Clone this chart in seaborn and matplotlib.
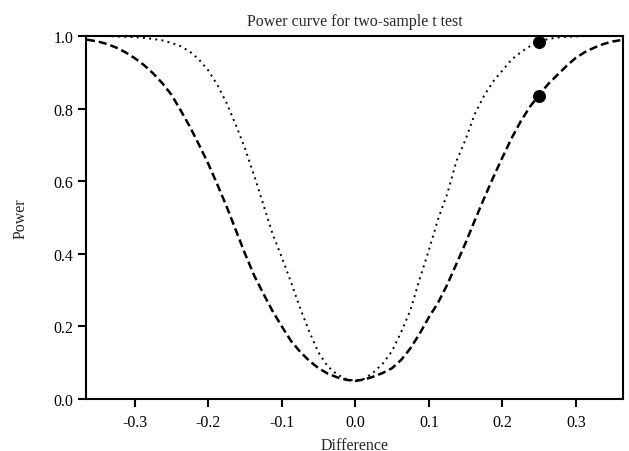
import matplotlib
matplotlib.use("Agg")
import matplotlib.pyplot as plt
import pandas as pd
import seaborn as sns

# values
diff = [-0.365, -0.35, -0.3375, -0.325, -0.3125, -0.3, -0.2875, -0.275, -0.2625, -0.25,
        -0.2375, -0.225, -0.2125, -0.2, -0.1875, -0.175, -0.1625, -0.15, -0.1375, -0.125,
        -0.1125, -0.1, -0.0875, -0.075, -0.0625, -0.05, -0.0375, -0.025, -0.0125, 0.0,
        0.0125, 0.025, 0.0375, 0.05, 0.0625, 0.075, 0.0875, 0.1, 0.1125, 0.125,
        0.1375, 0.15, 0.1625, 0.175, 0.1875, 0.2, 0.2125, 0.225, 0.2375, 0.25,
        0.2625, 0.275, 0.2875, 0.3, 0.3125, 0.325, 0.3375, 0.35, 0.365]
power_small = [0.990, 0.985, 0.978, 0.968, 0.955, 0.939, 0.920, 0.897, 0.870, 0.838,
               0.795, 0.750, 0.700, 0.648, 0.590, 0.530, 0.465, 0.400, 0.340, 0.290,
               0.242, 0.200, 0.160, 0.130, 0.105, 0.085, 0.070, 0.060, 0.053, 0.050,
               0.054, 0.062, 0.072, 0.085, 0.108, 0.140, 0.180, 0.225, 0.265, 0.315,
               0.372, 0.430, 0.492, 0.552, 0.610, 0.665, 0.718, 0.765, 0.805, 0.838,
               0.868, 0.893, 0.918, 0.940, 0.956, 0.968, 0.978, 0.985, 0.990]
power_large = [1.000, 1.000, 1.000, 0.999, 0.998, 0.997, 0.995, 0.992, 0.988, 0.981,
               0.972, 0.957, 0.935, 0.905, 0.865, 0.815, 0.755, 0.690, 0.615, 0.535,
               0.455, 0.390, 0.322, 0.250, 0.185, 0.128, 0.090, 0.068, 0.055, 0.050,
               0.056, 0.074, 0.098, 0.132, 0.185, 0.245, 0.330, 0.410, 0.495, 0.565,
               0.655, 0.715, 0.785, 0.835, 0.875, 0.905, 0.935, 0.955, 0.972, 0.985,
               0.992, 0.996, 0.998, 0.999, 1.000, 1.000, 1.000, 1.000, 1.000]
mark_x = [0.25, 0.25]
mark_y = [0.836, 0.985]

sns.set_style("ticks")
plt.rcParams["font.family"] = ["Liberation Serif", "DejaVu Serif"]

df = pd.DataFrame({"Difference": diff, "small": power_small, "large": power_large})
pts = pd.DataFrame({"x": mark_x, "y": mark_y})

fig = plt.figure(figsize=(6.29, 4.52), dpi=100)
ax = fig.add_axes([0.1367, 0.115, 0.8538, 0.803])

sns.lineplot(data=df, x="Difference", y="small", ax=ax, color="black",
             linewidth=1.8, linestyle="--")
ax.lines[-1].set_dashes((3.2, 1.6))
sns.lineplot(data=df, x="Difference", y="large", ax=ax, color="black",
             linewidth=1.4, linestyle=":")
ax.lines[-1].set_dashes((1, 2.2))
sns.scatterplot(data=pts, x="x", y="y", ax=ax, color="black", s=75,
                edgecolor="black", zorder=5, clip_on=False)

ax.set_xlim(-0.3664, 0.3642)
ax.set_ylim(0, 1)
ax.set_xticks([-0.3, -0.2, -0.1, 0.0, 0.1, 0.2, 0.3])
ax.set_xticklabels(["-0.3", "-0.2", "-0.1", "0.0", "0.1", "0.2", "0.3"])
ax.set_yticks([0.0, 0.2, 0.4, 0.6, 0.8, 1.0])
ax.set_yticklabels(["0.0", "0.2", "0.4", "0.6", "0.8", "1.0"])
for s in ax.spines.values():
    s.set_linewidth(1.5)
    s.set_color("black")
ax.tick_params(axis="both", length=5.5, width=1.5, labelsize=11.5, colors="black",
               direction="out", top=False, right=False)
ax.tick_params(axis="x", pad=5)
ax.set_xlabel("Difference", fontsize=11.5, labelpad=5)
ax.set_ylabel("Power", fontsize=11.5, labelpad=18)
ax.set_title("Power curve for two-sample t test", fontsize=11.5, pad=8)

fig.savefig("out.png", dpi=100)
